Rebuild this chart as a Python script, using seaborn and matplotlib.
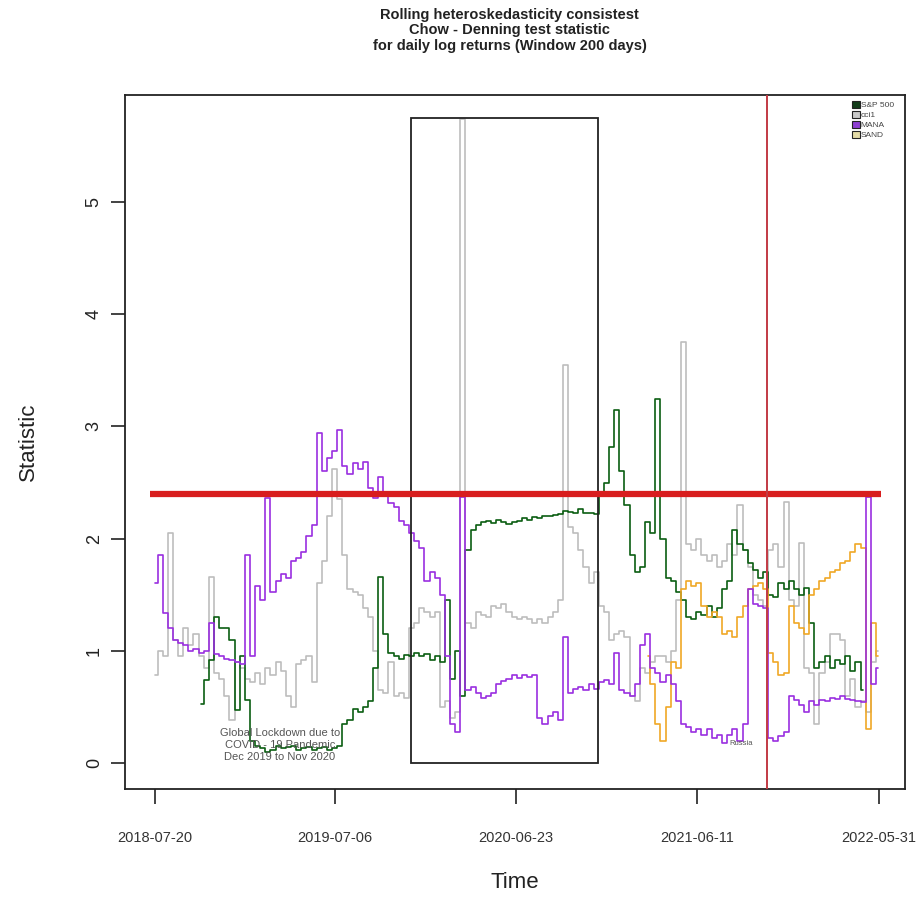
import numpy as np
import pandas as pd
import matplotlib
matplotlib.use("Agg")
import matplotlib.pyplot as plt
from matplotlib.patches import Rectangle, Patch
import matplotlib.dates as mdates
import seaborn as sns

# ---- data: rolling Chow-Denning statistic, sampled every 10 days from the start date ----
start_date = "2018-07-20"
step = "10D"
nan = np.nan

sp500 = [nan] * 9 + [
    0.53, 0.74, 0.92, 1.30, 1.20, 1.20, 1.10, 0.47, 0.95, 0.56,
    0.20, 0.15, 0.13, 0.10, 0.12, 0.15, 0.13, 0.14, 0.15, 0.12,
    0.13, 0.14, 0.12, 0.13, 0.14, 0.12, 0.13, 0.15, 0.35, 0.38,
    0.48, 0.45, 0.50, 0.55, 0.85, 1.66, 1.15, 0.98, 0.95, 0.93,
    0.96, 0.95, 0.98, 0.95, 0.97, 0.92, 0.95, 0.90, 1.45, 0.75,
    1.00, 0.60, 1.90, 2.08, 2.12, 2.15, 2.16, 2.14, 2.17, 2.15,
    2.13, 2.15, 2.16, 2.18, 2.17, 2.19, 2.18, 2.20, 2.20, 2.21,
    2.22, 2.25, 2.24, 2.23, 2.26, 2.23, 2.23, 2.22, 2.40, 2.50,
    2.82, 3.15, 2.60, 2.30, 1.85, 1.70, 1.75, 2.15, 2.05, 3.24,
    2.00, 1.65, 1.62, 1.52, 1.45, 1.30, 1.28, 1.35, 1.32, 1.40,
    1.30, 1.38, 1.55, 1.62, 2.08, 1.95, 1.90, 1.78, 1.72, 1.65,
    1.70, 1.50, 1.48, 1.60, 1.55, 1.62, 1.55, 1.50, 1.56, 1.25,
    0.85, 0.90, 0.95, 0.85, 0.92, 0.88, 0.95, 0.82, 0.90, 0.65,
]

cci1 = [
    0.78, 1.00, 0.95, 2.05, 1.10, 0.95, 1.20, 1.05, 1.15, 0.95,
    0.85, 1.66, 0.80, 0.75, 0.60, 0.38, 0.90, 0.85, 0.75, 0.72,
    0.80, 0.70, 0.85, 0.78, 0.90, 0.82, 0.60, 0.50, 0.88, 0.92,
    0.95, 0.72, 1.60, 1.80, 2.20, 2.62, 2.35, 1.85, 1.55, 1.52,
    1.50, 1.38, 1.30, 1.00, 0.65, 0.62, 0.90, 0.60, 0.62, 0.58,
    1.20, 1.25, 1.38, 1.35, 1.30, 1.35, 0.50, 0.55, 0.40, 0.45,
    5.74, 1.25, 1.20, 1.35, 1.32, 1.30, 1.40, 1.38, 1.42, 1.35,
    1.30, 1.28, 1.30, 1.28, 1.25, 1.28, 1.25, 1.30, 1.35, 1.45,
    3.55, 2.10, 2.05, 1.90, 1.75, 1.60, 1.70, 1.40, 1.35, 1.10,
    1.15, 1.18, 1.12, 0.60, 0.55, 0.85, 0.80, 0.90, 0.95, 0.95,
    0.90, 1.00, 1.45, 3.75, 1.95, 1.90, 2.00, 1.85, 1.80, 1.85,
    1.75, 1.80, 1.95, 1.85, 2.30, 1.90, 1.75, 1.50, 1.45, 1.40,
    1.90, 1.95, 1.75, 2.33, 1.45, 1.40, 1.96, 0.85, 0.80, 0.35,
    0.80, 0.90, 1.15, 1.15, 1.10, 0.60, 0.75, 0.50, 0.55, 0.45,
    0.90, 1.00,
]

mana = [
    1.60, 1.85, 1.34, 1.20, 1.10, 1.07, 1.05, 1.00, 1.02, 0.98,
    1.00, 1.25, 0.97, 0.95, 0.93, 0.92, 0.90, 0.88, 1.85, 0.95,
    1.58, 1.45, 2.36, 1.52, 1.62, 1.68, 1.65, 1.80, 1.83, 1.88,
    2.02, 2.12, 2.94, 2.60, 2.72, 2.78, 2.97, 2.65, 2.58, 2.67,
    2.62, 2.68, 2.45, 2.36, 2.55, 2.40, 2.32, 2.28, 2.16, 2.12,
    2.05, 1.98, 1.92, 1.62, 1.70, 1.65, 1.50, 0.95, 0.35, 0.28,
    2.37, 0.65, 0.68, 0.62, 0.58, 0.60, 0.62, 0.70, 0.73, 0.75,
    0.78, 0.76, 0.78, 0.77, 0.78, 0.40, 0.35, 0.42, 0.45, 0.38,
    1.12, 0.62, 0.66, 0.68, 0.65, 0.70, 0.66, 0.72, 0.74, 0.70,
    0.98, 0.65, 0.62, 0.60, 0.70, 1.05, 1.15, 0.85, 0.80, 0.72,
    0.78, 0.70, 0.55, 0.35, 0.32, 0.28, 0.30, 0.25, 0.30, 0.22,
    0.25, 0.18, 0.25, 0.30, 0.20, 0.35, 1.55, 1.42, 1.40, 1.38,
    0.22, 0.20, 0.24, 0.28, 0.60, 0.56, 0.52, 0.45, 0.55, 0.52,
    0.56, 0.55, 0.58, 0.57, 0.60, 0.57, 0.56, 0.55, 0.54, 2.37,
    0.70, 0.85,
]

sand = [nan] * 96 + [
    0.95, 0.70, 0.35, 0.20, 0.50, 0.90, 0.85, 1.55, 1.62, 1.58,
    1.60, 1.40, 1.30, 1.35, 1.30, 1.15, 1.18, 1.12, 1.30, 1.40,
    1.55, 1.58, 1.60, 1.55, 0.98, 0.90, 0.78, 0.80, 1.40, 1.25,
    1.20, 1.15, 1.50, 1.55, 1.62, 1.65, 1.70, 1.72, 1.78, 1.80,
    1.88, 1.95, 1.92, 0.30, 1.25, 0.95,
]

series_names = ["S&P 500", "cci1", "MANA", "SAND"]
series_colors = ["#0b5e12", "#bdbdbd", "#9a2fe0", "#f0a826"]
legend_fill = ["#133d1a", "#c9c9c9", "#8e3fd2", "#e3dba6"]

threshold = 2.40
event_date = "2021-10-25"
lockdown_span = ("2019-12-01", "2020-11-30")
box_top = 5.75
tick_dates = ["2018-07-20", "2019-07-06", "2020-06-23", "2021-06-11", "2022-05-31"]

# ---- assemble long-format table ----
frames = []
for name, vals in zip(series_names, [sp500, cci1, mana, sand]):
    dates = pd.date_range(start_date, periods=len(vals), freq=step)
    frames.append(pd.DataFrame({"Time": dates, "Statistic": vals, "series": name}))
df = pd.concat(frames, ignore_index=True).dropna()

# ---- figure ----
sns.set_theme(style="white")
plt.rcParams["font.family"] = ["Liberation Sans", "DejaVu Sans"]

fig = plt.figure(figsize=(9.18, 9.07), dpi=100)
ax = fig.add_axes([125 / 918, 1 - 789 / 907, 780 / 918, 694 / 907])

palette = dict(zip(series_names, series_colors))
for s in ["cci1", "S&P 500", "SAND", "MANA"]:
    sns.lineplot(data=df[df["series"] == s], x="Time", y="Statistic", color=palette[s],
                 estimator=None, sort=True, drawstyle="steps-mid", linewidth=1.2,
                 ax=ax, legend=False)

t0 = pd.Timestamp(start_date)
# heavy threshold line
ax.hlines(threshold, t0 - pd.Timedelta(days=10), t0 + pd.Timedelta(days=1415),
          color="#d81e1e", linewidth=4.5, zorder=5)
# event marker
ax.axvline(pd.Timestamp(event_date), color="#c23a44", linewidth=1.4, zorder=6)
# lockdown period box
x0 = mdates.date2num(pd.Timestamp(lockdown_span[0]))
x1 = mdates.date2num(pd.Timestamp(lockdown_span[1]))
ax.add_patch(Rectangle((x0, 0), x1 - x0, box_top, fill=False, edgecolor="#222222",
                       linewidth=1.3, zorder=4))

ax.text(pd.Timestamp("2019-03-20"), 0.16,
        "Global Lockdown due to\nCOVID - 19 Pandemic\nDec 2019 to Nov 2020",
        ha="center", va="center", fontsize=8, color="#555555", linespacing=1.2, zorder=7)
ax.text(pd.Timestamp("2021-09-04"), 0.17, "Russia", ha="center", va="center",
        fontsize=5.5, color="#555555", zorder=7)

ax.set_xlim(t0 - pd.Timedelta(days=58.5), t0 + pd.Timedelta(days=1461.7))
ax.set_ylim(-0.232, 5.954)

ax.set_xticks([pd.Timestamp(d) for d in tick_dates])
ax.set_xticklabels(tick_dates, fontsize=10.5, color="#333333")
ax.set_yticks([0, 1, 2, 3, 4, 5])
ax.set_yticklabels(["0", "1", "2", "3", "4", "5"], fontsize=13, rotation=90, va="center",
                   color="#222222")
ax.tick_params(axis="x", length=11, width=1.2, color="#222222", pad=19, direction="out",
               bottom=True)
ax.tick_params(axis="y", length=10, width=1.2, color="#222222", pad=6, direction="out",
               left=True)
for sp in ax.spines.values():
    sp.set_color("#222222")
    sp.set_linewidth(1.3)

ax.set_xlabel("Time", fontsize=16, color="#222222", labelpad=20)
ax.set_ylabel("Statistic", fontsize=16, color="#222222", labelpad=34)

fig.text(0.555, 1 - 8 / 907,
         "Rolling heteroskedasticity consistest\nChow - Denning test statistic\n"
         "for daily log returns (Window 200 days)",
         ha="center", va="top", fontsize=10.5, fontweight="bold", color="#222222",
         linespacing=1.12)

handles = [Patch(facecolor=c, edgecolor="#222222", linewidth=0.8) for c in legend_fill]
ax.legend(handles, series_names, loc="upper left",
          bbox_to_anchor=(852 / 918, 1 - 101 / 907), bbox_transform=fig.transFigure,
          frameon=False, fontsize=6, handlelength=0.9, handleheight=0.9,
          handletextpad=0.15, labelspacing=0.2, borderpad=0, borderaxespad=0,
          labelcolor="#444444")

fig.savefig("out.png", dpi=100, facecolor="white")
